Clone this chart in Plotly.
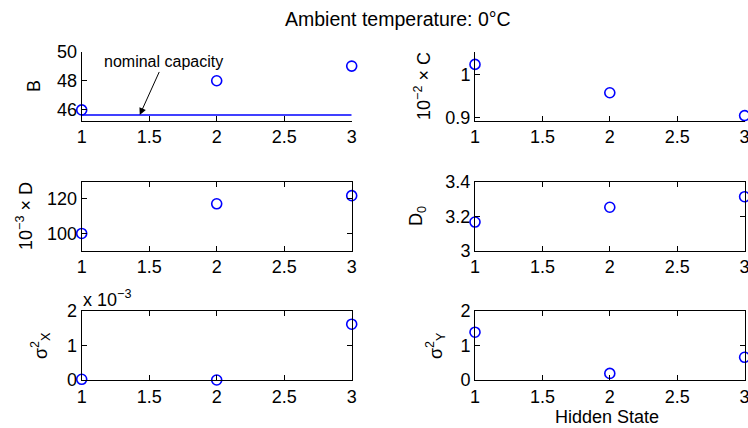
import plotly.graph_objects as go
from plotly.subplots import make_subplots

# hidden states on the x axis
states = [1, 2, 3]

# parameter estimates per hidden state
B_vals = [45.95, 47.98, 49.0]
nominal_capacity = 45.6
C_vals = [1.025, 0.958, 0.904]          # 10^-2 x C
D_vals = [100.0, 117.2, 121.9]          # 10^-3 x D
D0_vals = [3.166, 3.252, 3.313]
sigx2_vals = [0.00002, 0.0, 0.00161]
sigy2_vals = [1.38, 0.19, 0.655]

xticks = [1, 1.5, 2, 2.5, 3]
xticklabels = ['1', '1.5', '2', '2.5', '3']

W, H = 748, 428
FONT = 'Liberation Sans, Arial, sans-serif'
FS = 18
BLUE = '#0000ff'

fig = make_subplots(rows=3, cols=2)

def px_x(p):
    return p / W

def px_y(p):
    return 1 - p / H

# panel boxes in window pixels (left, right) and (top, bottom)
cols_px = [(81.7, 351.7), (475, 744.6)]
rows_px = [(51.7, 120.7), (181.7, 250.7), (310.7, 380.0)]

panels = [
    (1, 1, B_vals, [45.2, 50], [46, 48, 50], ['46', '48', '50'], False),
    (1, 2, C_vals, [0.892, 1.055], [0.9, 1.0], ['0.9', '1'], False),
    (2, 1, D_vals, [90, 130], [100, 120], ['100', '120'], True),
    (2, 2, D0_vals, [3.0, 3.4], [3.0, 3.2, 3.4], ['3', '3.2', '3.4'], True),
    (3, 1, sigx2_vals, [0, 0.002], [0, 0.001, 0.002], ['0', '1', '2'], True),
    (3, 2, sigy2_vals, [0, 2], [0, 1, 2], ['0', '1', '2'], True),
]

for r, c, vals, yr, yt, ytl, boxed in panels:
    fig.add_trace(go.Scatter(
        x=states, y=vals, mode='markers', cliponaxis=False,
        marker=dict(symbol='circle-open', size=10, color=BLUE, line=dict(width=1.6, color=BLUE)),
        showlegend=False), row=r, col=c)
    if r == 1 and c == 1:
        fig.add_trace(go.Scatter(
            x=[states[0], states[-1]], y=[nominal_capacity, nominal_capacity], mode='lines',
            line=dict(color=BLUE, width=1.6), showlegend=False), row=r, col=c)
    x0, x1 = cols_px[c - 1]
    y0, y1 = rows_px[r - 1]
    mirror = 'ticks' if boxed else False
    fig.update_xaxes(domain=[px_x(x0), px_x(x1)], range=[1, 3], tickvals=xticks, ticktext=xticklabels,
                     ticks='inside', ticklen=5, tickcolor='black', showline=True, linecolor='black',
                     linewidth=1, mirror=mirror, showgrid=False, zeroline=False, automargin=False,
                     ticklabeloverflow='allow', row=r, col=c)
    fig.update_yaxes(domain=[px_y(y1), px_y(y0)], range=yr, tickvals=yt, ticktext=ytl,
                     ticks='inside', ticklen=5, tickcolor='black', showline=True, linecolor='black',
                     linewidth=1, mirror=mirror, showgrid=False, zeroline=False, automargin=False,
                     row=r, col=c)

ann = [
    ('B', 34, 86),
    ('10<sup>−2</sup> × C', 423, 86),
    ('10<sup>−3</sup> × D', 25, 216),
    ('D<sub>0</sub>', 418, 216),
    ('σ<sup>2</sup><sub>X</sub>', 40, 346),
    ('σ<sup>2</sup><sub>Y</sub>', 435, 346),
]
for text, x, y in ann:
    fig.add_annotation(text=text, x=px_x(x), y=px_y(y), xref='paper', yref='paper',
                       xanchor='center', yanchor='middle', textangle=-90, showarrow=False,
                       font=dict(size=FS, color='black'))

fig.add_annotation(text='Hidden State', x=px_x(607), y=px_y(417), xref='paper', yref='paper',
                   xanchor='center', yanchor='middle', showarrow=False, font=dict(size=FS, color='black'))
fig.add_annotation(text='x 10<sup>−3</sup>', x=px_x(81), y=px_y(298), xref='paper', yref='paper',
                   xanchor='left', yanchor='middle', showarrow=False, font=dict(size=FS, color='black'))
fig.add_annotation(text='Ambient temperature: 0°C', x=px_x(398), y=px_y(19), xref='paper', yref='paper',
                   xanchor='center', yanchor='middle', showarrow=False, font=dict(size=19.5, color='black'))

# arrow pointing at the nominal capacity line
fig.add_annotation(text='nominal capacity', x=1.43, y=nominal_capacity, xref='x', yref='y',
                   ax=24, ay=-53, showarrow=True, arrowhead=2, arrowsize=1.4, arrowwidth=1,
                   arrowcolor='black', font=dict(size=16, color='black'))

fig.update_layout(width=W, height=H, margin=dict(l=0, r=0, t=0, b=0),
                  plot_bgcolor='white', paper_bgcolor='white',
                  font=dict(family=FONT, size=FS, color='black'))

# drop the default page margin so the figure fills the window exactly
fig.write_html('out.html', config={'displayModeBar': False},
               post_script="document.body.style.margin='0';document.body.style.overflow='hidden';")
